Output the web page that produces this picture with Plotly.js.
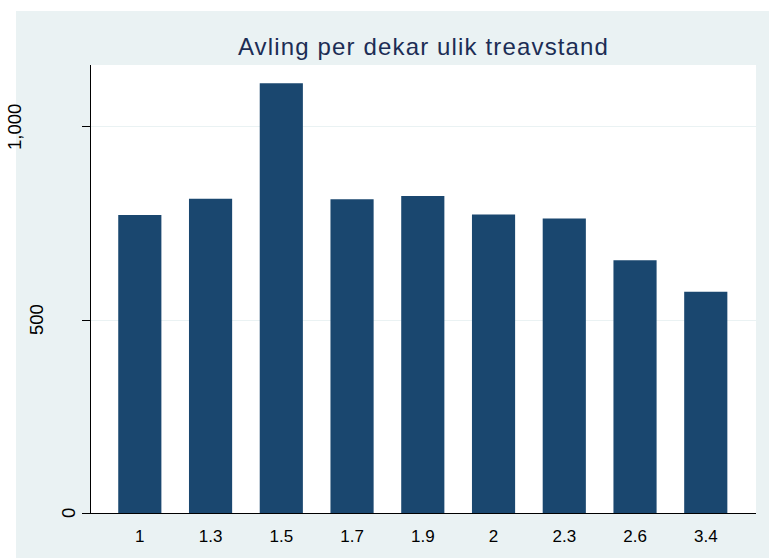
<!DOCTYPE html>
<html>
<head>
<meta charset="utf-8">
<script src="https://cdn.plot.ly/plotly-3.0.1.min.js"></script>
<style>
  html, body { margin: 0; padding: 0; background: #ffffff; }
  #bg { position: absolute; left: 16px; top: 11px; right: 0; bottom: 0; background: #eaf2f3; }
  #chart { position: absolute; left: 0; top: 0; width: 769px; height: 558px; }
  #chart .gtitle { letter-spacing: 1.15px; }
</style>
</head>
<body>
<div id="bg"></div>
<div id="chart"></div>
<script>
// Data
const categories = ["1", "1.3", "1.5", "1.7", "1.9", "2", "2.3", "2.6", "3.4"];
const yieldPerDekar = [772, 814, 1113, 813, 821, 773, 763, 655, 573];
const yTickVals = [0, 500, 1000];
const yTickLabels = ["0", "500", "1,000"];
const chartTitle = "Avling per dekar ulik treavstand";

// Stata-style horizontal placement of the rotated y labels (px from axis)
const yLabelShift = [-23, -55, -76];

const FONT = "Arial, 'Liberation Sans', Helvetica, sans-serif";

const trace = {
  type: "bar",
  x: categories,
  y: yieldPerDekar,
  width: 0.61,
  marker: { color: "#1a476f", line: { width: 0 } },
  hoverinfo: "x+y"
};

const annotations = yTickVals.map((v, i) => ({
  xref: "paper", yref: "y",
  x: 0, y: v,
  xshift: yLabelShift[i],
  text: yTickLabels[i],
  textangle: -90,
  showarrow: false,
  xanchor: "center", yanchor: "middle",
  font: { family: FONT, size: 18.5, color: "#000000" }
}));

const layout = {
  width: 769,
  height: 558,
  paper_bgcolor: "rgba(0,0,0,0)",
  plot_bgcolor: "#ffffff",
  margin: { l: 91, r: 13, t: 65, b: 45, pad: 0 },
  showlegend: false,
  title: {
    text: chartTitle,
    font: { family: FONT, size: 24, color: "#1c2d55" },
    xref: "paper", x: 0.5, xanchor: "center",
    yref: "container", y: 1 - 46.9 / 558, yanchor: "middle"
  },
  xaxis: {
    type: "category",
    range: [-0.69, 8.71],
    showline: true, linecolor: "#000000", linewidth: 1,
    ticks: "", showgrid: false, zeroline: false,
    ticklabelstandoff: 8,
    tickfont: { family: FONT, size: 17, color: "#000000" },
    fixedrange: true
  },
  yaxis: {
    range: [0, 1160.6],
    showline: true, linecolor: "#000000", linewidth: 1,
    ticks: "outside", ticklen: 8, tickcolor: "#000000", tickwidth: 1,
    tickvals: yTickVals,
    showticklabels: false,
    showgrid: true, gridcolor: "#eaf2f3", gridwidth: 1,
    zeroline: false,
    fixedrange: true
  },
  annotations: annotations
};

Plotly.newPlot("chart", [trace], layout, { displayModeBar: false, staticPlot: true });
</script>
</body>
</html>
